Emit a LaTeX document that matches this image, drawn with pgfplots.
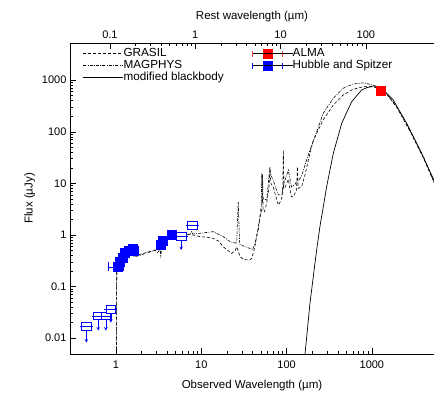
\documentclass[border=0pt]{standalone}
\usepackage{fontspec}
\setmainfont{Liberation Sans}
\usepackage{pgfplots}
\usepackage{pgfplotstable}
\pgfplotsset{compat=1.18}

\pgfplotstableread{
x y
1.012 0.001
1.02 0.18
1.03 0.22
1.06 0.26
1.1 0.30
1.2 0.35
1.35 0.40
1.5 0.42
1.7 0.40
2.0 0.43
2.4 0.47
2.8 0.50
3.2 0.55
3.5 0.62
3.8 0.80
4.2 0.88
5.0 0.93
6.0 0.98
7.0 1.02
8.0 1.00
9.66 0.93
12 0.90
13.8 0.86
16 0.76
18.1 0.59
20 0.52
22.7 0.44
25 0.50
26 0.59
27 0.50
28.5 0.38
31 0.34
34 0.33
37 0.33
39 0.35
42.5 0.59
46.6 1.45
49 2.3
51.2 3.05
52.3 15
53.2 3.0
55 2.83
58.5 4.1
62 8
63.7 18
65.5 10
69.8 8.6
75 5.5
80 3.8
85 4.5
90 6
91.7 44
93 8
95.8 8
100 10
105 12
110 7.5
114 5.5
120 5.5
131 7.5
134 21
137 8
150 8.6
165 15
180 28.5
206 69
268 169
353 330
460 516
600 665
794 748
1038 748
1300 640
1500 530
1965 295
2800 102
4030 31
5350 10.5
5600 9.2
}\grasil

\pgfplotstableread{
x y
1.012 0.001
1.02 0.20
1.04 0.25
1.1 0.30
1.2 0.36
1.35 0.40
1.5 0.40
1.67 0.38
2.0 0.41
2.19 0.44
2.6 0.48
2.87 0.51
3.1 0.45
3.28 0.55
3.35 0.40
3.45 0.60
3.75 0.80
4.2 0.85
4.92 0.93
6.45 1.00
7.5 1.05
7.7 1.16
8.0 1.05
9.66 1.08
13.8 1.16
18.1 0.93
21.8 0.74
26 0.69
27.1 4.4
28.2 0.66
32 0.60
37.1 0.55
40 0.52
42.5 0.69
46.6 1.25
50.3 3.5
51.2 15.7
52.2 4.5
53.4 5.1
58.5 4.76
63.7 21
66 14
69.8 11.6
75 8
80 6
87.7 6
92 9
95.8 11.6
105 18
114 8.6
125 9.5
131 10.8
140 11.6
150 14
172 28.5
188 44
215 80
268 228
353 446
460 697
600 843
794 890
1038 807
1300 650
1500 545
1965 306
2800 108
4030 33
5350 10.5
5600 9.2
}\magphys

\pgfplotstableread{
x y
160 0.0025
164 0.0047
175 0.014
188 0.0475
200 0.107
215 0.283
230 0.66
246 1.45
270 3.6
295 8.63
320 17
353 38.3
400 80
443 146
510 243
580 383
660 494
759 646
880 720
1038 772
1160 760
1303 697
1500 555
1782 413
2150 240
2559 146
3050 81
3664 44.4
4400 23
5346 11.6
5600 9.8
}\mbb

\pgfplotstableread{
x y em ep
1.05 0.24 0.24 0.15
1.10 0.30 0.05 0.05
1.20 0.36 0.05 0.05
1.25 0.45 0.08 0.08
1.40 0.50 0.10 0.10
1.55 0.55 0.10 0.10
1.60 0.50 0.10 0.10
3.35 0.65 0.20 0.20
3.50 0.78 0.30 0.30
4.45 1.00 0.40 0.40
}\hstdet

\pgfplotstableread{
x y e
0.45 0.017 0.0088
0.62 0.027 0.013
0.76 0.027 0.013
0.87 0.036 0.016
5.8 0.95 0.44
7.8 1.55 0.25
}\hstlim

\begin{document}
\begin{tikzpicture}
\begin{axis}[
  name=main,
  scale only axis, width=364pt, height=311pt,
  xmode=log, ymode=log,
  xmin=0.289, xmax=5350, ymin=0.00494, ymax=5260,
  axis y line*=left, axis x line*=box,
  xtick pos=left,
  xtick={1,10,100,1000}, xticklabels={1,10,100,1000},
  ytick={0.01,0.1,1,10,100,1000}, yticklabels={0.01,0.1,1,10,100,1000},
  tick align=inside,
  major tick length=6pt, minor tick length=3.5pt,
  tick style={black, line width=0.6pt},
  axis line style={line width=0.8pt},
  xlabel={Observed Wavelength (µm)}, ylabel={Flux (µJy)},
  label style={font=\fontsize{11.5}{13}\selectfont},
  xlabel style={yshift=-5pt},
  xticklabel style={yshift=-3pt},
  ticklabel style={font=\fontsize{11}{13}\selectfont},
  /pgf/number format/assume math mode=true,
  legend style={at={(rel axis cs:0.035,0.984)}, anchor=north west, draw=none, fill=none,
     inner sep=0pt, row sep=1pt, font=\fontsize{11.7}{13}\selectfont,
     nodes={inner xsep=0pt, inner ysep=0pt, text height=8.5pt, text depth=2.5pt}},
  legend cell align=left,
  legend image code/.code={\draw[#1] (0pt,0pt) -- (34pt,0pt); \path (0pt,0pt) -- (40pt,0pt);},
]
\addplot[black, line width=0.6pt, dash pattern=on 3pt off 2pt] table[x=x,y=y] {\grasil};
\addlegendentry{GRASIL}
\addplot[black, line width=0.6pt, dash pattern=on 3pt off 1.3pt on 0.8pt off 1.3pt] table[x=x,y=y] {\magphys};
\addlegendentry{MAGPHYS}
\addplot[black, line width=0.7pt] table[x=x,y=y] {\mbb};
\addlegendentry{modified blackbody}

% upper-limit arrows
\addplot[blue, only marks, mark=none, forget plot,
  error bars/.cd, y dir=minus, y explicit, error mark=none,
  error bar style={blue, -stealth, line width=0.6pt}]
  table[x=x,y=y,y error minus=e] {\hstlim};
% open squares
\addplot[blue, only marks, mark=square*, mark size=3.7pt, forget plot,
  mark options={xscale=1.3, draw=blue, fill=white, line width=0.6pt}] table[x=x,y=y] {\hstlim};
\addplot[blue, only marks, mark=-, mark size=6.5pt, forget plot,
  mark options={draw=blue, line width=0.6pt}] table[x=x,y=y] {\hstlim};
% detections
\addplot[blue, only marks, mark=square*, mark size=4.5pt, forget plot,
  mark options={draw=blue, fill=blue},
  error bars/.cd, x dir=both, x explicit, error bar style={blue, line width=0.6pt}]
  table[x=x,y=y,x error minus=em,x error plus=ep] {\hstdet};
% ALMA
\addplot[red, only marks, mark=square*, mark size=4.5pt, forget plot,
  mark options={draw=red, fill=red}] coordinates {(1280,630)};
\end{axis}

\begin{axis}[
  scale only axis, width=364pt, height=311pt,
  at={(main.south west)}, anchor=south west,
  xmode=log, ymode=log,
  xmin=0.0340, xmax=629.4, ymin=0.00494, ymax=5260,
  axis x line*=top, axis y line=none,
  xticklabel pos=right,
  xtick={0.1,1,10,100}, xticklabels={0.1,1,10,100},
  tick align=inside,
  major tick length=6pt, minor tick length=3.5pt,
  tick style={black, line width=0.6pt},
  axis line style={line width=0.8pt},
  xlabel={Rest wavelength (µm)},
  label style={font=\fontsize{11.5}{13}\selectfont},
  xlabel style={yshift=1.5pt},
  xticklabel style={yshift=1pt},
  ticklabel style={font=\fontsize{11}{13}\selectfont},
  /pgf/number format/assume math mode=true,
  legend style={at={(rel axis cs:0.5,0.984)}, anchor=north west, draw=none, fill=none,
     inner sep=0pt, row sep=1pt, font=\fontsize{11.7}{13}\selectfont,
     nodes={inner xsep=0pt, inner ysep=0pt, text height=8.5pt, text depth=2.5pt}},
  legend cell align=left,
]
\addlegendimage{legend image code/.code={
   \draw[red!75, line width=0.7pt] (0pt,0pt) -- (30pt,0pt) (0pt,-3pt) -- (0pt,3pt) (30pt,-3pt) -- (30pt,3pt);
   \fill[red] (10.5pt,-4.5pt) rectangle (19.5pt,4.5pt);
   \path (0pt,0pt) -- (40pt,0pt);}}
\addlegendentry{ALMA}
\addlegendimage{legend image code/.code={
   \draw[blue, line width=0.7pt] (0pt,0pt) -- (30pt,0pt) (0pt,-3pt) -- (0pt,3pt) (30pt,-3pt) -- (30pt,3pt);
   \fill[blue] (10.5pt,-4.5pt) rectangle (19.5pt,4.5pt);
   \path (0pt,0pt) -- (40pt,0pt);}}
\addlegendentry{Hubble and Spitzer}
\end{axis}
\pgfresetboundingbox
\path ([xshift=-70pt,yshift=-40pt]main.south west) rectangle ([yshift=43pt]main.north east);
\end{tikzpicture}
\end{document}
